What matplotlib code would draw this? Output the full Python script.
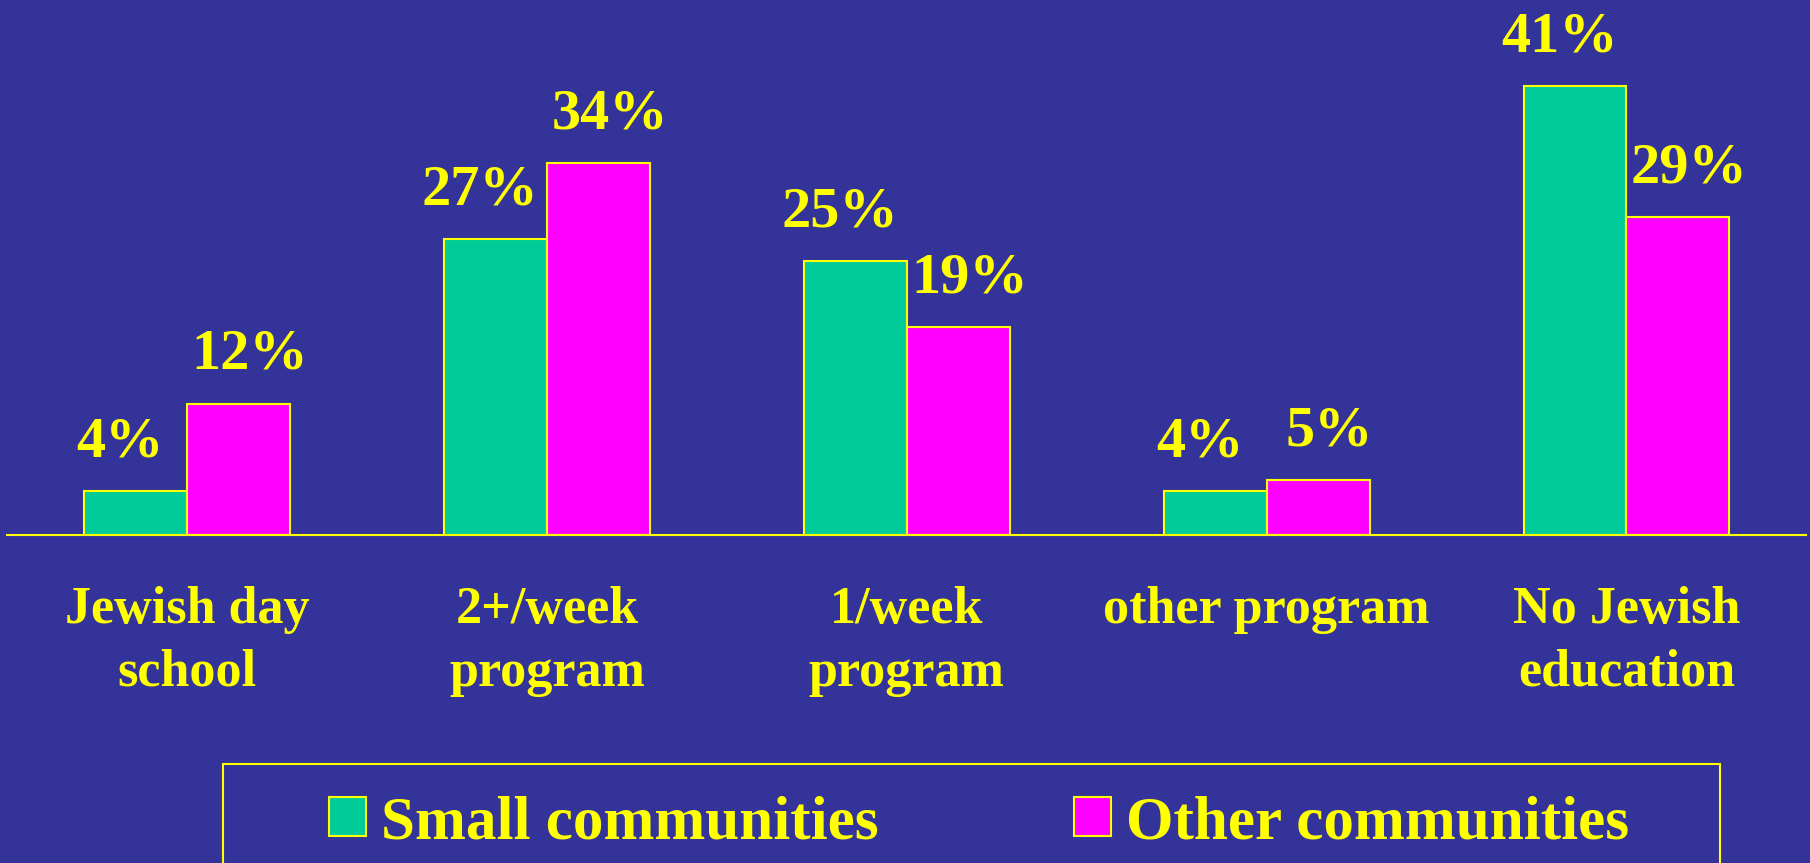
import numpy as np
import matplotlib.pyplot as plt
from matplotlib.patches import Rectangle

# Datos del gráfico
categories = ['Jewish day\nschool', '2+/week\nprogram', '1/week\nprogram',
              'other program', 'No Jewish\neducation']
small = [4, 27, 25, 4, 41]
other = [12, 34, 19, 5, 29]
series_names = ['Small communities', 'Other communities']

bg = '#333399'
green = '#00CC99'
magenta = '#FF00FF'
yellow = '#FFFF00'

plt.rcParams['font.family'] = ['Liberation Serif', 'DejaVu Serif']
plt.rcParams['font.weight'] = 'bold'

fig = plt.figure(figsize=(18.1, 8.63), dpi=100, facecolor=bg)
ax = fig.add_axes([0.004, 0.380, 0.994, 0.571], facecolor=bg)

x = np.arange(len(categories))
w = 0.286
b1 = ax.bar(x - w/2, small, w, color=green, edgecolor=yellow, linewidth=1.5,
            label=series_names[0])
b2 = ax.bar(x + w/2, other, w, color=magenta, edgecolor=yellow, linewidth=1.5,
            label=series_names[1])

# Etiquetas de valores
for xi, v in zip(x - w/2, small):
    ax.annotate(f'{v}%', (xi, v), xytext=(-11, 25), textcoords='offset points',
                ha='center', va='baseline', color=yellow, fontsize=42,
                fontweight='bold', annotation_clip=False)
for xi, v in zip(x + w/2, other):
    ax.annotate(f'{v}%', (xi, v), xytext=(8, 25), textcoords='offset points',
                ha='center', va='baseline', color=yellow, fontsize=42,
                fontweight='bold', annotation_clip=False)

ax.set_xlim(-0.5, 4.5)
ax.set_ylim(0, 45)
for s in ['top', 'left', 'right']:
    ax.spines[s].set_visible(False)
ax.spines['bottom'].set_color(yellow)
ax.spines['bottom'].set_linewidth(1.5)
ax.set_yticks([])
ax.set_xticks(x)
ax.set_xticklabels(categories, color=yellow, fontsize=37.5, fontweight='bold',
                   linespacing=1.38)
ax.tick_params(axis='x', length=0, pad=37)

# Caja de la leyenda
fig.patches.append(Rectangle((0.1232, -0.1), 0.827, 0.2147,
                             transform=fig.transFigure, facecolor='none',
                             edgecolor=yellow, linewidth=1.5, clip_on=False))
leg = fig.legend(handles=[b1, b2], loc='center', bbox_to_anchor=(0.541, 0.046),
                 ncol=2, frameon=False, handlelength=0.6,
                 handleheight=0.6, handletextpad=0.25, columnspacing=3.2,
                 prop={'family': 'Liberation Serif', 'weight': 'bold', 'size': 44})
for t in leg.get_texts():
    t.set_color(yellow)

fig.savefig('out.png', dpi=100, facecolor=bg)
